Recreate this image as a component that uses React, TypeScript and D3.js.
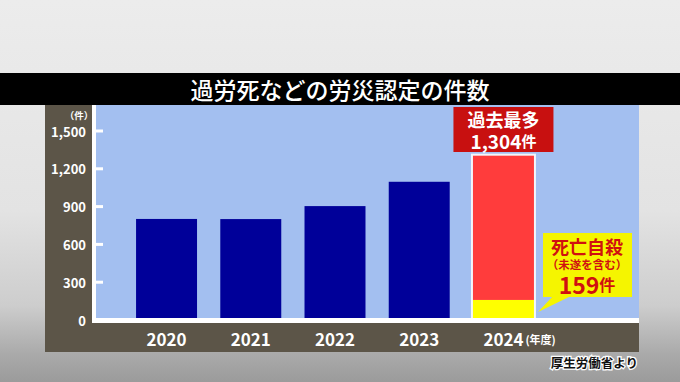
import React from "react";
import * as d3 from "d3";

const years = ["2020", "2021", "2022", "2023", "2024"];
const totals = [802, 801, 904, 1097, 1304];
const suicide2024 = 159;
const yTicks = [0, 300, 600, 900, 1200, 1500];

const W = 680;
const H = 382;
const FONT = "'Noto Sans CJK JP', 'Noto Sans', sans-serif";

export default function App() {
  const x = d3.scaleBand<string>().domain(years).range([115, 555]).paddingInner(0.276).paddingOuter(0.25);
  const y = d3.scaleLinear().domain([0, 1500]).range([320, 131]);
  const fmt = d3.format(",");
  const bw = x.bandwidth();
  const last = years[years.length - 1];
  const lx = x(last) as number;
  const lcx = lx + bw / 2;
  const lastTotal = totals[totals.length - 1];

  return (
    <svg width={W} height={H} style={{ position: "absolute", left: 0, top: 0, display: "block" }} fontFamily={FONT}>
      <defs>
        <linearGradient id="bg" x1="0" y1="0" x2="0" y2="1">
          <stop offset="0" stopColor="#ececec" />
          <stop offset="0.55" stopColor="#e3e3e3" />
          <stop offset="0.8" stopColor="#cdcdcd" />
          <stop offset="0.93" stopColor="#a9a9a9" />
          <stop offset="1" stopColor="#9b9b9b" />
        </linearGradient>
      </defs>
      <rect x={0} y={0} width={W} height={H} fill="url(#bg)" />
      {/* title bar */}
      <rect x={0} y={73} width={W} height={32} fill="#000" />
      <text x={340} y={89} textAnchor="middle" dominantBaseline="central" fill="#fff" fontSize={23} fontWeight={500}>
        過労死などの労災認定の件数
      </text>
      {/* panel */}
      <rect x={45} y={105} width={594} height={247} fill="#5c5548" />
      <rect x={96} y={105} width={543} height={213} fill="#a3bff0" />
      {/* bars */}
      {years.map((yr, i) => {
        if (i === years.length - 1) return null;
        return (
          <rect key={yr} x={x(yr)} y={y(totals[i])} width={bw} height={y(0) - y(totals[i])} fill="#000099" />
        );
      })}
      {/* last bar stacked */}
      <rect x={lx - 2} y={y(lastTotal) - 2} width={bw + 4} height={y(0) - y(lastTotal) + 2} fill="#f4f6fb" />
      <rect x={lx} y={y(lastTotal)} width={bw} height={y(suicide2024) - y(lastTotal)} fill="#ff3c3c" />
      <rect x={lx} y={y(suicide2024)} width={bw} height={y(0) - y(suicide2024)} fill="#ffff00" />
      {/* axis lines */}
      <rect x={92} y={105} width={4} height={218} fill="#ffffff" />
      <rect x={92} y={318} width={547} height={5} fill="#ffffff" />
      {yTicks.map((t) =>
        t > 0 ? <rect key={"tk" + t} x={96} y={y(t) - 1.5} width={7} height={3} fill="#ffffff" /> : null
      )}
      {yTicks.map((t) => (
        <text key={"yl" + t} x={86} y={y(t)} textAnchor="end" dominantBaseline="central" fill="#fff" fontSize={13} fontWeight={700}>
          {fmt(t)}
        </text>
      ))}
      <text x={79} y={115} textAnchor="middle" dominantBaseline="central" fill="#fff" fontSize={9.5} fontWeight={700}>
        （件）
      </text>
      {years.map((yr) => (
        <text key={"xl" + yr} x={(x(yr) as number) + bw / 2} y={338} textAnchor="middle" dominantBaseline="central" fill="#fff" fontSize={17} fontWeight={700}>
          {yr}
        </text>
      ))}
      <text x={lcx + 22} y={339} textAnchor="start" dominantBaseline="central" fill="#fff" fontSize={11} fontWeight={700}>
        (年度)
      </text>
      {/* red label */}
      <rect x={lcx - 50} y={107} width={100} height={45} fill="#c81010" />
      <text x={lcx} y={119} textAnchor="middle" dominantBaseline="central" fill="#fff" fontSize={18} fontWeight={700}>
        過去最多
      </text>
      <text x={lcx} y={140} textAnchor="middle" dominantBaseline="central" fill="#fff" fontWeight={700}>
        <tspan fontSize={19}>{fmt(lastTotal)}</tspan>
        <tspan fontSize={15}>件</tspan>
      </text>
      {/* yellow callout */}
      <polygon points="553,296 571,296 538,312" fill="#f5f500" />
      <rect x={543} y={233} width={89} height={64} fill="#f5f500" />
      <text x={587} y={246} textAnchor="middle" dominantBaseline="central" fill="#d01010" fontSize={18} fontWeight={700}>
        死亡自殺
      </text>
      <text x={587} y={264} textAnchor="middle" dominantBaseline="central" fill="#d01010" fontSize={11.5} fontWeight={700}>
        （未遂を含む）
      </text>
      <text x={587} y={284} textAnchor="middle" dominantBaseline="central" fill="#d01010" fontWeight={700}>
        <tspan fontSize={23}>{suicide2024}</tspan>
        <tspan fontSize={16}>件</tspan>
      </text>
      {/* source */}
      <text x={638} y={362} textAnchor="end" dominantBaseline="central" fill="#111" stroke="#fff" strokeWidth={2.5} paintOrder="stroke" fontSize={12.5} fontWeight={700}>
        厚生労働省より
      </text>
    </svg>
  );
}
